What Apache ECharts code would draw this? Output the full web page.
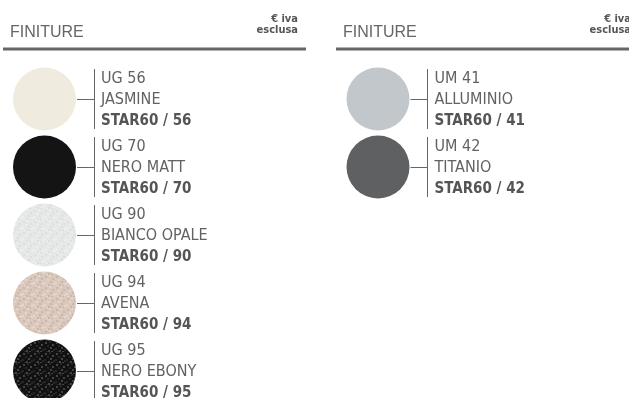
<!DOCTYPE html>
<html>
<head>
<meta charset="utf-8">
<script src="https://cdn.jsdelivr.net/npm/echarts@6/dist/echarts.min.js"></script>
<style>
  html, body { margin: 0; padding: 0; background: #fff; }
  #chart { width: 629px; height: 398px; }
</style>
</head>
<body>
<div id="chart"></div>
<script>
// finishes catalogue data
const codes = ["UG 56", "UG 70", "UG 90", "UG 94", "UG 95", "UM 41", "UM 42"];
const names = ["JASMINE", "NERO MATT", "BIANCO OPALE", "AVENA", "NERO EBONY", "ALLUMINIO", "TITANIO"];
const refs = ["STAR60 / 56", "STAR60 / 70", "STAR60 / 90", "STAR60 / 94", "STAR60 / 95", "STAR60 / 41", "STAR60 / 42"];
const columns = [0, 0, 0, 0, 0, 1, 1];
const rows = [0, 1, 2, 3, 4, 0, 1];
const swatchColors = ["#efecdf", "#141414", "#e6e8e8", "#dac8bd", "#111111", "#c2c7cb", "#5f6061"];
const grainColors = { "UG 90": ["#dcdfdf", "#eceeee"], "UG 94": ["#cbb7aa", "#e4d6cc"], "UG 95": ["#444444", "#262626"] };
const headerTitle = "FINITURE";
const headerNote = ["€ iva", "esclusa"];

const textFont = '"Liberation Sans Narrow", "DejaVu Sans Condensed", sans-serif';
const headFont = '"Liberation Sans", sans-serif';

// fixed grain tile for the granite finishes
const grainDots = [[1, 1, 0], [5, 0, 1], [8, 3, 0], [3, 4, 1], [6, 6, 0], [0, 7, 1], [9, 8, 1], [4, 9, 0], [2, 10, 1], [7, 10, 0]];
function grain(base, cols) {
  const c = document.createElement("canvas");
  c.width = 11; c.height = 11;
  const g = c.getContext("2d");
  g.fillStyle = base;
  g.fillRect(0, 0, 11, 11);
  grainDots.forEach(d => {
    g.fillStyle = cols[d[2]];
    g.fillRect(d[0], d[1], 2, 2);
  });
  return { image: c, repeat: "repeat" };
}

const rings = codes.map((c, i) => [columns[i], rows[i], i]);

const chart = echarts.init(document.getElementById("chart"));

function header(dx) {
  return [
    {
      type: "text", left: 10 + dx, top: 25,
      style: { text: headerTitle, font: "16px " + headFont, fill: "#666" }
    },
    {
      type: "text", x: 298 + dx, y: 14,
      style: { text: headerNote[0], font: "bold 11px " + textFont, fill: "#555", align: "right" }
    },
    {
      type: "text", x: 298 + dx, y: 25,
      style: { text: headerNote[1], font: "bold 11px " + textFont, fill: "#555", align: "right" }
    },
    {
      type: "rect", shape: { x: 3 + dx, y: 47.5, width: 303, height: 3 },
      style: { fill: "#666" }
    }
  ];
}

chart.setOption({
  animation: false,
  grid: { left: 44.5, width: 333.5, top: 65, height: 306 },
  xAxis: { type: "value", min: 0, max: 1, show: false },
  yAxis: { type: "value", min: -0.5, max: 4, inverse: true, show: false },
  graphic: header(0).concat(header(333)),
  series: [
    {
      type: "custom",
      silent: true,
      data: rings,
      renderItem: function (params, api) {
        const i = api.value(2);
        const code = codes[i];
        const p = api.coord([api.value(0), api.value(1)]);
        const x = Math.round(p[0] + 49) + 0.5;
        const y = Math.round(p[1]) + 0.5;
        const st = { stroke: "#666", lineWidth: 1 };
        const fill = grainColors[code] ? grain(swatchColors[i], grainColors[code]) : swatchColors[i];
        return {
          type: "group",
          children: [
            { type: "circle", shape: { cx: p[0], cy: p[1], r: 31.5 }, style: { fill: fill } },
            { type: "line", shape: { x1: x, y1: p[1] - 30, x2: x, y2: p[1] + 30 }, style: st },
            { type: "line", shape: { x1: p[0] + 32.5, y1: y, x2: x, y2: y }, style: st },
            {
              type: "text",
              x: p[0] + 56.5,
              y: p[1] + 1,
              style: {
                text: "{a|" + code + "}\n{a|" + names[i] + "}\n{b|" + refs[i] + "}",
                verticalAlign: "middle",
                rich: {
                  a: { fontFamily: textFont, fontSize: 16, fill: "#626262", lineHeight: 21.5 },
                  b: { fontFamily: textFont, fontSize: 15, fontWeight: "bold", fill: "#555", lineHeight: 21.5 }
                }
              }
            }
          ]
        };
      }
    }
  ]
});
</script>
</body>
</html>
